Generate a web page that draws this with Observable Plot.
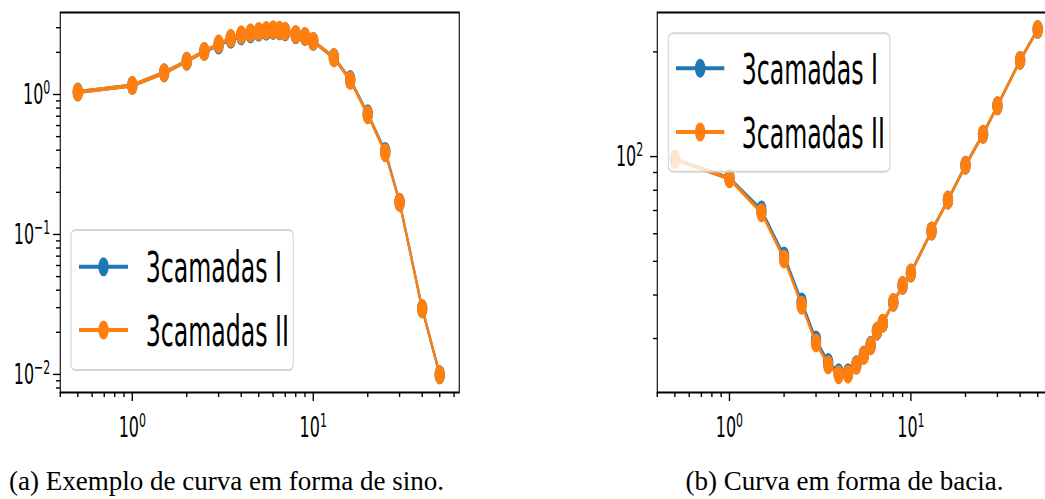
<!DOCTYPE html>
<html>
<head>
<meta charset="utf-8">
<script src="https://cdn.jsdelivr.net/npm/d3@7"></script>
<script src="https://cdn.jsdelivr.net/npm/@observablehq/plot@0.6"></script>
<style>
  html, body { margin: 0; padding: 0; background: white; }
  #fig { position: relative; width: 1045px; height: 499px; overflow: hidden; background: white; }
  .panel { position: absolute; top: 0; transform-origin: 0 0; }
  .panel svg { max-width: none !important; }
  .caption { position: absolute; top: 466px; font-family: "Liberation Serif", "DejaVu Serif", serif; font-size: 27px; color: black; white-space: nowrap; transform: translateX(-50%); }
</style>
</head>
<body>
<div id="fig"></div>
<script>
// Sample points (shared by both panels)
const xs = [0.5, 1, 1.5, 2, 2.5, 3, 3.5, 4, 4.5, 5, 5.5, 6, 6.5, 7, 8, 9, 10, 13, 16, 20, 25, 30, 40, 50];

// (a) bell-shaped curve
const sinoI  = [1.04, 1.16, 1.43, 1.73, 2.03, 2.26, 2.48, 2.63, 2.72, 2.78, 2.83, 2.86, 2.85, 2.81, 2.67, 2.59, 2.39, 1.84, 1.28, 0.728, 0.392, 0.170, 0.0295, 0.00995];
const sinoII = [1.04, 1.16, 1.43, 1.73, 2.03, 2.30, 2.52, 2.67, 2.76, 2.82, 2.87, 2.90, 2.88, 2.83, 2.68, 2.60, 2.40, 1.83, 1.26, 0.716, 0.383, 0.170, 0.0295, 0.00995];

// (b) basin-shaped curve
const baciaI  = [98.3, 86.6, 70.2, 51.8, 38.2, 29.7, 25.6, 23.9, 23.9, 25.2, 26.9, 28.7, 31.5, 33.2, 38.1, 42.6, 46.3, 61.1, 75.0, 94.4, 116, 140, 189, 232];
const baciaII = [98.3, 86.4, 69.0, 50.8, 37.4, 29.1, 25.2, 23.6, 23.7, 25.1, 26.8, 28.6, 31.5, 33.2, 38.1, 42.6, 46.3, 61.1, 75.0, 94.4, 116, 140, 189, 232];

const seriesNames = ["3camadas I", "3camadas II"];
const seriesColors = ["#1f77b4", "#ff7f0e"];

// Tick positions
const xMajor = [1, 10];
const xMinor = [0.4, 0.5, 0.6, 0.7, 0.8, 0.9, 2, 3, 4, 5, 6, 7, 8, 9, 20, 30, 40, 50, 60];
const sinoYMajor = [0.01, 0.1, 1];
const sinoYMinor = [0.008, 0.009, 0.02, 0.03, 0.04, 0.05, 0.06, 0.07, 0.08, 0.09,
                    0.2, 0.3, 0.4, 0.5, 0.6, 0.7, 0.8, 0.9, 2, 3];
const baciaYMajor = [100];
const baciaYMinor = [30, 40, 50, 60, 70, 80, 90, 200];

const captions = ["(a) Exemplo de curva em forma de sino.", "(b) Curva em forma de bacia."];

// The figure is drawn in a horizontally condensed style
const squeeze = 0.55;
const panelWidth = 470 / squeeze;

// "10^k" labels; the exponent becomes a raised tspan after rendering
const pow10 = d => "10^" + Math.round(Math.log10(d)).toString().replace("-", "\u2212");

function panel({I, II, yDomain, yMajor, yMinor, marginLeft, marginRight, yPad, legendBox, legendRows, legendLine, legendText}) {
  const chart = Plot.plot({
    width: panelWidth,
    height: 450,
    marginTop: 12,
    marginBottom: 58,
    marginLeft,
    marginRight,
    style: {fontFamily: "DejaVu Sans", fontSize: "29px", color: "black", background: "transparent", overflow: "visible"},
    x: {type: "log", domain: [0.4, 64.1]},
    y: {type: "log", domain: yDomain},
    marks: [
      Plot.axisX(xMinor, {tickSize: 5, tickFormat: () => "", strokeWidth: 2.5, label: null}),
      Plot.axisX(xMajor, {tickSize: 9, tickPadding: 15, tickFormat: pow10, strokeWidth: 2.5, label: null}),
      Plot.axisY(yMinor, {tickSize: 7.3, tickFormat: () => "", strokeWidth: 1.4, label: null}),
      Plot.axisY(yMajor, {tickSize: 12.7, tickPadding: yPad, tickFormat: pow10, strokeWidth: 1.4, label: null}),
      Plot.line(xs, {x: d => d, y: (d, i) => I[i], stroke: seriesColors[0], strokeWidth: 4}),
      Plot.dot(xs, {x: d => d, y: (d, i) => I[i], r: 9.5, fill: seriesColors[0]}),
      Plot.line(xs, {x: d => d, y: (d, i) => II[i], stroke: seriesColors[1], strokeWidth: 4}),
      Plot.dot(xs, {x: d => d, y: (d, i) => II[i], r: 9.5, fill: seriesColors[1]}),
      Plot.frame({stroke: "black", strokeWidth: 2})
    ]
  });

  const svg = d3.select(chart);

  // Superscript exponents on the tick labels
  svg.selectAll("text").each(function() {
    const t = this.textContent;
    if (!t.includes("^")) return;
    const [base, exp] = t.split("^");
    const el = d3.select(this);
    el.text(base);
    el.append("tspan").attr("font-size", "20px").attr("dy", "-10").text(exp);
  });

  // Legend box, semi-transparent over the curves
  const g = svg.append("g").attr("text-anchor", "start");
  const [bx0, by0, bx1, by1] = legendBox;
  g.append("rect")
    .attr("x", bx0).attr("y", by0)
    .attr("width", bx1 - bx0).attr("height", by1 - by0)
    .attr("rx", 9).attr("ry", 5)
    .attr("fill", "white").attr("fill-opacity", 0.8)
    .attr("stroke", "#cccccc").attr("stroke-opacity", 0.8).attr("stroke-width", 2);
  seriesNames.forEach((name, k) => {
    const yRow = legendRows[k];
    g.append("line")
      .attr("x1", legendLine[0]).attr("x2", legendLine[1])
      .attr("y1", yRow).attr("y2", yRow)
      .attr("stroke", seriesColors[k]).attr("stroke-width", 4);
    g.append("circle")
      .attr("cx", (legendLine[0] + legendLine[1]) / 2).attr("cy", yRow)
      .attr("r", 9.5).attr("fill", seriesColors[k]);
    g.append("text")
      .attr("x", legendText).attr("y", yRow + 15.7)
      .attr("text-anchor", "start")
      .attr("font-family", "DejaVu Sans").attr("font-size", 43)
      .attr("fill", "black")
      .text(name);
  });
  return chart;
}

const fig = document.getElementById("fig");

const left = panel({
  I: sinoI, II: sinoII,
  yDomain: [0.00743, 3.853],
  yMajor: sinoYMajor, yMinor: sinoYMinor,
  marginLeft: 60 / squeeze, marginRight: 11 / squeeze, yPad: 5.5,
  legendBox: [71 / squeeze, 230, 293.3 / squeeze, 370],
  legendRows: [266.7, 330],
  legendLine: [79 / squeeze, 128 / squeeze],
  legendText: 145.7 / squeeze
});
const right = panel({
  I: baciaI, II: baciaII,
  yDomain: [20.99, 259.5],
  yMajor: baciaYMajor, yMinor: baciaYMinor,
  marginLeft: 62 / squeeze, marginRight: 8 / squeeze, yPad: 12.8,
  legendBox: [73.3 / squeeze, 33.3, 295 / squeeze, 171.7],
  legendRows: [68.3, 132],
  legendLine: [81 / squeeze, 129.3 / squeeze],
  legendText: 146.7 / squeeze
});

[[left, 0], [right, 595]].forEach(([chart, x0]) => {
  const wrap = document.createElement("div");
  wrap.className = "panel";
  wrap.style.left = x0 + "px";
  wrap.style.width = panelWidth + "px";
  wrap.style.transform = `scaleX(${squeeze})`;
  wrap.appendChild(chart);
  fig.appendChild(wrap);
});

[[captions[0], 226.5], [captions[1], 844.5]].forEach(([txt, cx]) => {
  const c = document.createElement("div");
  c.className = "caption";
  c.style.left = cx + "px";
  c.textContent = txt;
  fig.appendChild(c);
});
</script>
</body>
</html>
